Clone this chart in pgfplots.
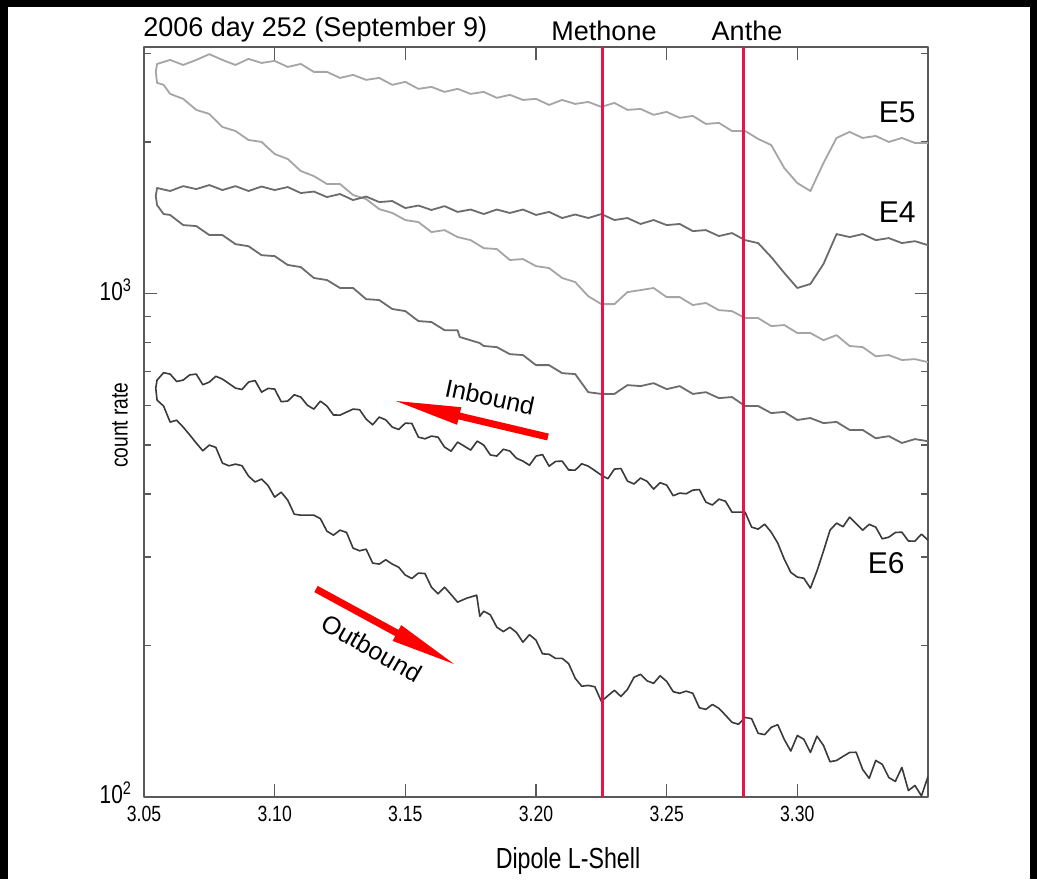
\documentclass[border=0pt]{standalone}
\usepackage{fontspec}
\setmainfont{Liberation Sans}
\newfontfamily\narrow{Liberation Sans}[FakeStretch=0.8]
\usepackage{pgfplots}
\pgfplotsset{compat=1.18}
\definecolor{eFive}{RGB}{165,165,165}
\definecolor{eFour}{RGB}{108,108,108}
\definecolor{eSix}{RGB}{58,58,58}
\definecolor{moon}{RGB}{232,20,72}
\definecolor{axgray}{RGB}{90,90,90}
\begin{document}
\begin{tikzpicture}
\fill[black] (0,0) rectangle (518.5pt,439.5pt);
\path[use as bounding box] (0,0) rectangle (518.5pt,439.5pt);
\fill[white] (4pt,0) rectangle (515pt,436pt);
\begin{axis}[
  at={(72pt,41pt)}, anchor=south west,
  scale only axis, width=392pt, height=375pt,
  xmin=3.05, xmax=3.35, ymin=100, ymax=3090, ymode=log,
  axis line style={axgray, line width=0.7pt},
  tick style={axgray, line width=0.7pt},
  tick align=inside,
  major tick length=6.5pt, minor tick length=3.5pt,
  xtick={3.05,3.10,3.15,3.20,3.25,3.30},
  xticklabels={3.05,3.10,3.15,3.20,3.25,3.30},
  minor xtick={},
  ytick={100,1000},
  yticklabels={10\textsuperscript{2},10\textsuperscript{3}},
  minor ytick={200,300,400,500,600,700,800,900,2000,3000},
  xticklabel style={font=\narrow\fontsize{11}{13}\selectfont, yshift=-1pt},
  yticklabel style={font=\narrow\fontsize{13}{15}\selectfont, xshift=-2.5pt, yshift=2pt},
  line join=round,
]
\addplot[eFive, line width=0.9pt] coordinates {
(3.350,1992)(3.345,1992)(3.340,2038)(3.335,2001)(3.330,2057)(3.325,2038)(3.320,2095)(3.315,2038)(3.310,1817)(3.305,1599)(3.300,1658)(3.295,1776)(3.290,1973)(3.285,2029)(3.280,2104)(3.275,2104)(3.270,2183)(3.265,2173)(3.260,2254)(3.255,2234)(3.250,2296)(3.245,2265)(3.240,2327)(3.235,2317)(3.230,2392)(3.225,2349)(3.220,2403)(3.215,2381)(3.210,2425)(3.205,2370)(3.200,2437)(3.195,2425)(3.190,2482)(3.185,2448)(3.180,2516)(3.175,2493)(3.170,2551)(3.165,2516)(3.160,2574)(3.155,2551)(3.150,2634)(3.145,2598)(3.140,2682)(3.135,2658)(3.130,2719)(3.125,2682)(3.120,2757)(3.115,2757)(3.110,2859)(3.105,2820)(3.100,2899)(3.095,2872)(3.090,2926)(3.085,2846)(3.080,2912)(3.075,2990)(3.070,2912)(3.065,2846)(3.060,2912)(3.055,2859)(3.0545,2757)
(3.055,2622)(3.0575,2598)(3.060,2493)(3.065,2437)(3.070,2317)(3.075,2275)(3.080,2143)(3.085,2104)(3.090,2019)(3.095,2001)(3.100,1894)(3.105,1851)(3.110,1752)(3.115,1712)(3.120,1651)(3.125,1651)(3.130,1570)(3.135,1541)(3.140,1472)(3.145,1446)(3.150,1400)(3.155,1387)(3.160,1325)(3.165,1337)(3.170,1295)(3.175,1277)(3.180,1231)(3.185,1226)(3.190,1166)(3.195,1171)(3.200,1134)(3.205,1124)(3.210,1074)(3.215,1054)(3.220,988)(3.225,953)(3.230,953)(3.235,1007)(3.240,1016)(3.245,1026)(3.250,984)(3.255,984)(3.260,949)(3.265,958)(3.270,927)(3.275,923)(3.280,894)(3.285,894)(3.290,862)(3.295,866)(3.300,835)(3.305,835)(3.310,808)(3.315,827)(3.320,787)(3.325,783)(3.330,751)(3.335,755)(3.340,738)(3.345,741)(3.350,731)
};
\addplot[eFour, line width=0.9pt] coordinates {
(3.350,1248)(3.345,1271)(3.340,1260)(3.335,1289)(3.330,1277)(3.325,1313)(3.320,1295)(3.315,1313)(3.310,1145)(3.305,1045)(3.300,1026)(3.295,1099)(3.290,1182)(3.285,1260)(3.280,1277)(3.275,1319)(3.270,1301)(3.265,1337)(3.260,1331)(3.255,1375)(3.250,1368)(3.245,1400)(3.240,1375)(3.235,1413)(3.230,1400)(3.225,1439)(3.220,1413)(3.215,1436)(3.210,1413)(3.205,1453)(3.200,1433)(3.195,1469)(3.190,1446)(3.185,1469)(3.180,1439)(3.175,1469)(3.170,1453)(3.165,1492)(3.160,1466)(3.155,1496)(3.150,1479)(3.145,1527)(3.140,1520)(3.135,1559)(3.130,1534)(3.125,1577)(3.120,1555)(3.115,1595)(3.110,1584)(3.105,1628)(3.100,1606)(3.095,1632)(3.090,1599)(3.085,1635)(3.080,1606)(3.075,1643)(3.070,1613)(3.065,1635)(3.060,1599)(3.055,1621)(3.0545,1562)
(3.055,1499)(3.0575,1439)(3.060,1433)(3.065,1368)(3.070,1362)(3.075,1307)(3.080,1307)(3.085,1254)(3.090,1242)(3.095,1192)(3.100,1187)(3.105,1140)(3.110,1129)(3.115,1074)(3.120,1064)(3.125,1026)(3.130,1026)(3.135,975)(3.140,971)(3.145,932)(3.150,923)(3.155,882)(3.160,878)(3.165,846)(3.170,846)(3.1708,820)(3.1784,798)(3.180,787)(3.185,783)(3.190,758)(3.195,755)(3.200,721)(3.205,721)(3.210,695)(3.215,692)(3.220,637)(3.225,632)(3.230,632)(3.235,658)(3.240,655)(3.245,664)(3.250,646)(3.255,655)(3.260,632)(3.265,637)(3.270,620)(3.275,623)(3.280,598)(3.285,598)(3.290,579)(3.295,582)(3.300,561)(3.305,566)(3.310,553)(3.315,556)(3.320,536)(3.325,536)(3.330,516)(3.335,521)(3.340,505)(3.345,514)(3.350,509)
};
\addplot[eSix, line width=0.8pt] coordinates {
(3.350,323.8)(3.3475,332.8)(3.345,322.3)(3.3425,322.5)(3.340,335.8)(3.3375,335.3)(3.335,328.2)(3.3325,325.8)(3.330,343.6)(3.3275,348.1)(3.325,338.9)(3.3225,349.3)(3.320,359.7)(3.3175,344.3)(3.315,350.0)(3.3125,338.9)(3.310,307.9)(3.3075,281.1)(3.305,259.9)(3.3025,272.0)(3.300,273.4)(3.2975,279.4)(3.295,296.8)(3.2925,319.5)(3.290,335.8)(3.2875,348.3)(3.285,340.5)(3.2825,343.7)(3.280,368.0)(3.2775,368.0)(3.275,368.0)(3.2725,386.9)(3.270,390.6)(3.2675,380.2)(3.265,385.3)(3.2625,408.1)(3.260,407.0)(3.2575,400.3)(3.255,401.5)(3.2525,396.7)(3.250,416.5)(3.2475,421.0)(3.245,408.9)(3.2425,423.7)(3.240,430.0)(3.2375,418.6)(3.235,424.2)(3.2325,449.3)(3.230,448.1)(3.2275,428.7)(3.225,435.9)(3.2225,445.1)(3.220,454.2)(3.2175,459.1)(3.215,446.0)(3.2125,446.3)(3.210,464.8)(3.2075,464.1)(3.205,454.2)(3.2025,478.8)(3.200,475.6)(3.1975,456.1)(3.195,464.8)(3.1925,470.9)(3.190,486.6)(3.1875,490.7)(3.185,475.6)(3.1825,478.1)(3.180,500.1)(3.1775,509.3)(3.175,488.8)(3.1725,497.9)(3.170,507.0)(3.1675,486.3)(3.165,495.6)(3.1625,518.6)(3.160,521.1)(3.1575,514.7)(3.155,518.7)(3.1525,552.0)(3.150,553.1)(3.1475,537.1)(3.145,543.0)(3.1425,561.3)(3.140,568.4)(3.1375,548.9)(3.135,563.3)(3.1325,588.0)(3.130,589.6)(3.1275,581.6)(3.125,573.6)(3.1225,574.0)(3.120,597.8)(3.1175,611.5)(3.115,589.6)(3.1125,600.2)(3.110,622.9)(3.1075,629.6)(3.105,611.6)(3.1025,610.0)(3.100,646.2)(3.0975,648.2)(3.095,637.3)(3.0925,671.9)(3.090,667.2)(3.0875,645.0)(3.085,649.1)(3.0825,662.8)(3.080,676.4)(3.0775,685.2)(3.075,667.2)(3.0725,659.2)(3.070,692.0)(3.0675,689.5)(3.065,673.3)(3.0625,669.0)(3.060,692.0)(3.0575,696.4)(3.055,673.3)(3.0545,649.1)
(3.055,614.4)(3.0575,597.8)(3.060,555.6)(3.0625,560.3)(3.065,543.0)(3.0675,523.9)(3.070,504.7)(3.0725,487.3)(3.075,500.1)(3.0775,494.8)(3.080,460.6)(3.0825,454.9)(3.085,458.4)(3.0875,455.1)(3.090,433.9)(3.0925,422.4)(3.095,428.1)(3.0975,415.3)(3.100,394.2)(3.1025,403.2)(3.105,388.8)(3.1075,364.6)(3.110,363.0)(3.1125,363.0)(3.115,363.0)(3.1175,357.2)(3.120,337.3)(3.1225,331.3)(3.125,338.9)(3.1275,335.4)(3.130,312.2)(3.1325,308.4)(3.135,310.7)(3.1375,291.5)(3.140,290.2)(3.1425,296.0)(3.145,290.2)(3.1475,285.9)(3.150,275.9)(3.1525,271.7)(3.155,278.5)(3.1575,277.9)(3.160,261.1)(3.1625,253.3)(3.165,261.1)(3.1675,252.5)(3.170,243.8)(3.1735,248.3)(3.1773,251.7)(3.1785,228.6)(3.180,233.9)(3.1825,230.2)(3.185,217.4)(3.1875,213.1)(3.190,217.4)(3.1925,212.3)(3.195,203.0)(3.1975,210.1)(3.200,204.9)(3.2025,192.5)(3.205,192.1)(3.2075,188.5)(3.210,188.6)(3.2125,184.0)(3.215,172.1)(3.2175,166.0)(3.220,166.6)(3.2225,165.6)(3.225,154.9)(3.2275,158.9)(3.230,162.9)(3.2325,158.4)(3.235,163.6)(3.2375,172.9)(3.240,175.3)(3.2425,170.1)(3.245,168.2)(3.2475,174.1)(3.250,169.7)(3.2525,161.9)(3.255,160.7)(3.2575,162.3)(3.260,160.7)(3.2625,150.4)(3.265,149.3)(3.2675,152.7)(3.270,150.0)(3.2725,145.4)(3.275,140.7)(3.2775,139.5)(3.280,143.9)(3.2825,143.1)(3.285,133.8)(3.2875,133.0)(3.290,137.5)(3.2925,139.2)(3.295,130.1)(3.2975,123.4)(3.300,132.5)(3.3025,130.2)(3.305,122.6)(3.3075,132.1)(3.310,126.6)(3.3125,117.5)(3.315,118.2)(3.3175,120.4)(3.320,122.6)(3.3225,122.7)(3.325,113.4)(3.3275,108.9)(3.330,118.2)(3.3325,116.1)(3.335,109.3)(3.3375,107.4)(3.340,114.5)(3.3425,103.0)(3.345,105.4)(3.3475,100.5)(3.350,109.8)
};
\addplot[moon, line width=1.3pt] coordinates {(3.2255,100) (3.2255,3090)};
\addplot[moon, line width=1.3pt] coordinates {(3.2795,100) (3.2795,3090)};
\end{axis}
\begin{scope}[x=0.5pt, y=-0.5pt, shift={(0,439.5pt)}]
\node[anchor=base west, inner sep=0, font=\fontsize{13.5}{16}\selectfont] at (143,37) {2006 day 252 (September 9)};
\node[anchor=base, inner sep=0, font=\fontsize{13.5}{16}\selectfont] at (604,41) {Methone};
\node[anchor=base, inner sep=0, font=\fontsize{13.5}{16}\selectfont] at (747,41) {Anthe};
\node[anchor=base east, inner sep=0, font=\fontsize{15}{18}\selectfont] at (916,123) {E5};
\node[anchor=base east, inner sep=0, font=\fontsize{15}{18}\selectfont] at (916,223) {E4};
\node[anchor=base east, inner sep=0, font=\fontsize{15}{18}\selectfont] at (905,573) {E6};
\node[rotate=-12, inner sep=0, font=\fontsize{12.5}{15}\selectfont] at (490,397) {Inbound};
\node[rotate=-30, inner sep=0, font=\fontsize{12.5}{15}\selectfont] at (372,648) {Outbound};
\node[rotate=90, inner sep=0, font=\narrow\fontsize{12}{14}\selectfont] at (120,425) {count rate};
\node[inner sep=0, font=\narrow\fontsize{14.5}{17}\selectfont] at (568,861) {Dipole L-Shell};
\fill[red] (548.8,433.6) -- (460.0,412.6) -- (461.3,407.2) -- (396,401) -- (457.1,424.8) -- (458.4,419.4) -- (547.2,440.4) -- cycle;
\fill[red] (317.7,585.9) -- (398.6,629.9) -- (401.2,625.1) -- (454,664) -- (392.6,640.9) -- (395.2,636.1) -- (314.3,592.1) -- cycle;
\end{scope}
\end{tikzpicture}
\end{document}
